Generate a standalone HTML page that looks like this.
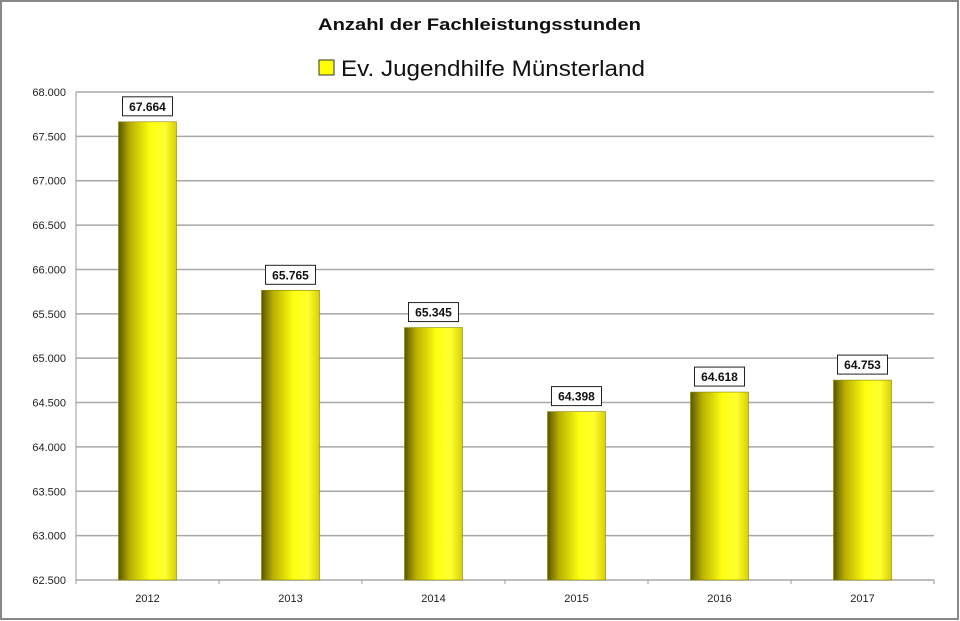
<!DOCTYPE html>
<html><head><meta charset="utf-8"><style>
body{margin:0;background:#fff;}
svg{display:block;font-family:"Liberation Sans",sans-serif;}
</style></head><body>
<svg width="960" height="621" viewBox="0 0 960 621">
<defs>
<linearGradient id="bg" x1="0" x2="1" y1="0" y2="0">
<stop offset="0" stop-color="#5a5400"/>
<stop offset="0.2" stop-color="#b8b000"/>
<stop offset="0.55" stop-color="#ffff10"/>
<stop offset="0.8" stop-color="#ffff30"/>
<stop offset="1" stop-color="#d8d000"/>
</linearGradient>
</defs>
<rect x="1" y="1" width="957" height="618" fill="#fff" stroke="#888" stroke-width="2"/>
<text x="318" y="30" textLength="323" lengthAdjust="spacingAndGlyphs" font-size="17" font-weight="bold" fill="#111">Anzahl der Fachleistungsstunden</text>
<g>
<rect x="319" y="60" width="15" height="15" fill="#ffff00" stroke="#333"/>
<text x="341" y="76" font-size="22" textLength="304" lengthAdjust="spacingAndGlyphs" fill="#111">Ev. Jugendhilfe Münsterland</text>
</g>
<g id="grid"></g>
<g id="bars"></g>
<g id="labels"></g>
</svg>
<script>
const categories=["2012","2013","2014","2015","2016","2017"];
const values=[67664,65765,65345,64398,64618,64753];
const valueLabels=["67.664","65.765","65.345","64.398","64.618","64.753"];
const ticks=[62500,63000,63500,64000,64500,65000,65500,66000,66500,67000,67500,68000];
const tickLabels=["62.500","63.000","63.500","64.000","64.500","65.000","65.500","66.000","66.500","67.000","67.500","68.000"];
const NS="http://www.w3.org/2000/svg";
const L=76,R=934,T=92,B=580,ymin=62500,ymax=68000;
const y=v=>B-(v-ymin)/(ymax-ymin)*(B-T);
const band=(R-L)/categories.length;
const xc=i=>L+band*(i+0.5);
function mk(t,a,p){const e=document.createElementNS(NS,t);for(const k in a)e.setAttribute(k,a[k]);p.appendChild(e);return e;}
const g=document.getElementById('grid'),bg=document.getElementById('bars'),lg=document.getElementById('labels');
ticks.forEach((t,i)=>{
 const ln=mk('line',{x1:L,x2:R,y1:y(t),y2:y(t),stroke:'#a8a8a8','stroke-width':1.5},g);
 
 
 const tx=mk('text',{x:L-10,y:y(t)+4,'text-anchor':'end','font-size':11,fill:'#222'},g);
 tx.textContent=tickLabels[i];
 
 
});
const ax=mk('line',{x1:L,x2:L,y1:T,y2:B,stroke:'#999'},g);


for(let i=0;i<=categories.length;i++){
 const tk=mk('line',{x1:L+band*i,x2:L+band*i,y1:B,y2:B+4,stroke:'#999'},g);
 
 
}
const bw=58;
values.forEach((v,i)=>{
 const r=mk('rect',{x:xc(i)-bw/2,y:y(v),width:bw,height:B-y(v),fill:'url(#bg)',stroke:'#8a8400','stroke-width':0.6},bg);
 
 
 const bx=mk('rect',{x:xc(i)-25,y:y(v)-25,width:50,height:19,fill:'#fff',stroke:'#222'},lg);
 
 
 const t=mk('text',{x:xc(i),y:y(v)-11,'text-anchor':'middle','font-size':12,'font-weight':'bold',fill:'#111'},lg);
 t.textContent=valueLabels[i];
 
 
 const c=mk('text',{x:xc(i),y:B+22,'text-anchor':'middle','font-size':11,fill:'#222'},lg);
 c.textContent=categories[i];
 
 
});
</script>
</body></html>
